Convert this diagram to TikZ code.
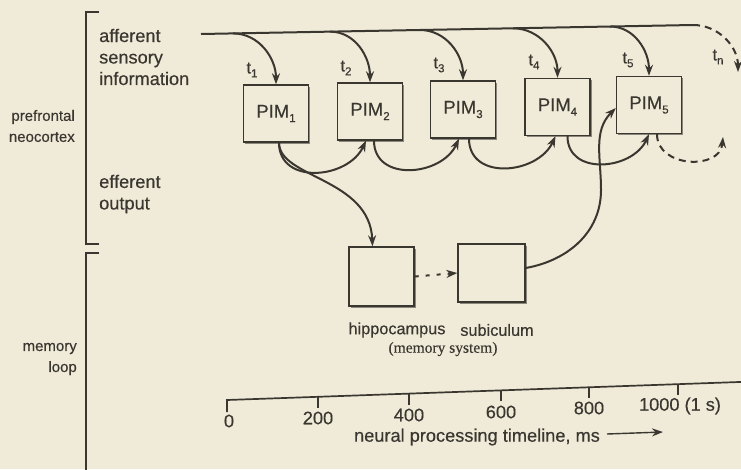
\documentclass[tikz,border=0pt]{standalone}
\usepackage{fontspec}
\setmainfont{Liberation Sans}[FakeBold=0.35]
\newfontfamily\serifnm{Liberation Serif}[FakeBold=0.3]
\usetikzlibrary{arrows.meta,shadows,calc}
\definecolor{bg}{RGB}{240,235,216}
\definecolor{ink}{RGB}{58,54,48}
\newcommand\sbs[1]{\raisebox{-0.45ex}{\fontsize{11.5}{11.5}\selectfont #1}}
\begin{document}
\begin{tikzpicture}[x=1pt,y=1pt,
  lbl/.style={text=ink, inner sep=0pt, font=\fontsize{18.2}{21.5}\selectfont},
  side/.style={text=ink, inner sep=0pt, font=\fontsize{15}{21}\selectfont, align=right},
  tl/.style={text=ink, inner sep=0pt, font=\fontsize{16.5}{16.5}\selectfont},
  pim/.style={draw=ink, line width=1.4pt, fill=bg, minimum width=65pt, minimum height=57pt,
    inner sep=0pt, text=ink, font=\fontsize{18.5}{18.5}\selectfont,
    drop shadow={shadow xshift=1.8pt, shadow yshift=-1.8pt, fill=ink, opacity=0.55}},
  ln/.style={draw=ink, line width=2pt},
  arr/.style={ln, -{Stealth[length=11pt,width=8pt]}},
  dsh/.style={dash pattern=on 7pt off 5pt},
]
\fill[bg] (0,0) rectangle (741,-469);
\useasboundingbox (0,0) rectangle (741,-469);

% brackets
\draw[ink, line width=1.5pt] (99,-12) -- (86,-12) -- (86,-244) -- (99,-244);
\draw[ink, line width=1.5pt] (99,-253) -- (86,-253) -- (86,-475);

% side labels
\node[side, anchor=east] (pf) at (75,-126) {prefrontal\\neocortex};
\node[side, anchor=east] (ml) at (77,-359) {memory\\loop};
\node[lbl, align=left, anchor=west] (aff) at (99,-57) {afferent\\sensory\\information};
\node[lbl, align=left, anchor=west] (eff) at (99,-194) {efferent\\output};

% PIM boxes
\node[pim] (p1) at (276,-113.5) {PIM\sbs{1}};
\node[pim] (p2) at (370,-111.5) {PIM\sbs{2}};
\node[pim] (p3) at (463,-109.5) {PIM\sbs{3}};
\node[pim] (p4) at (557.5,-107) {PIM\sbs{4}};
\node[pim] (p5) at (649,-105) {PIM\sbs{5}};
\node[pim, minimum width=65pt, minimum height=59pt] (hip) at (381.5,-276.5) {};
\node[pim, minimum width=67pt, minimum height=58pt] (sub) at (491.5,-273) {};

% top line and branches
\coordinate (tL) at (201,-34);
\coordinate (tR) at (693,-25);
\coordinate (b1) at (233,-33.4);
\coordinate (b2) at (330,-31.6);
\coordinate (b3) at (420,-30);
\coordinate (b4) at (513,-28.3);
\coordinate (b5) at (610,-26.5);
\coordinate (tn) at (738,-72);
\draw[ln] (tL) -- (tR);
\draw[arr] (b1) to[out=0,in=90] (p1.north);
\draw[arr] (b2) to[out=0,in=90] (p2.north);
\draw[arr] (b3) to[out=0,in=90] (p3.north);
\draw[arr] (b4) to[out=0,in=90] (p4.north);
\draw[arr] (b5) to[out=0,in=90] (p5.north);
\draw[arr, dsh] (tR) to[out=0,in=90] (tn);

% t labels
\node[tl] (t1) at (252,-70) {t\sbs{1}};
\node[tl] (t2) at (346,-68) {t\sbs{2}};
\node[tl] (t3) at (439,-65) {t\sbs{3}};
\node[tl] (t4) at (534,-62) {t\sbs{4}};
\node[tl] (t5) at (628,-60) {t\sbs{5}};
\node[tl] (tnl) at (718,-57) {t\sbs{n}};

% bottom loops
\draw[arr] ($(p1.south)+(3,0)$) to[out=-90,in=-115,looseness=1.25] ($(p2.south)+(-4,0)$);
\draw[arr] ($(p2.south)+(4,0)$) to[out=-90,in=-115,looseness=1.25] ($(p3.south)+(-4,0)$);
\draw[arr] ($(p3.south)+(6,0)$) to[out=-90,in=-115,looseness=1.25] ($(p4.south)+(-2,0)$);
\draw[arr] ($(p4.south)+(10,0)$) to[out=-90,in=-115,looseness=1.25] ($(p5.south)+(0,0)$);
\coordinate (n5) at (723,-137);
\draw[arr, dsh] ($(p5.south)+(8,0)$) to[out=-90,in=-95,looseness=1.3] (n5);

% memory loop
\draw[arr] ($(p1.south)+(3,0)$) .. controls (279,-178) and (370,-178) .. ($(hip.north)+(-9,0)$);
\draw[arr, dash pattern=on 4pt off 7pt] (hip.east) -- (sub.west);
\coordinate (v) at (601,-190);
\draw[arr] ($(sub.east)+(0,5)$) to[out=10,in=-90] (v) to[out=90,in=-135] ($(p5.west)+(0,-3)$);

% memory labels
\node[text=ink, inner sep=0pt, font=\fontsize{16.3}{16}\selectfont] (hl) at (397,-330) {hippocampus};
\node[text=ink, inner sep=0pt, font=\fontsize{16.3}{16}\selectfont] (sl) at (497,-330) {subiculum};
\node[text=ink, inner sep=0pt, font=\serifnm\fontsize{15.5}{16}\selectfont] (ms) at (443,-349) {(memory system)};

% timeline
\coordinate (k0) at (227,-400);
\coordinate (k1) at (318,-396.8);
\coordinate (k2) at (409,-393.6);
\coordinate (k3) at (501,-390.4);
\coordinate (k4) at (589,-387.3);
\coordinate (k5) at (678,-384.2);
\coordinate (kend) at (745,-381.8);
\draw[ln, line width=1.7pt] ($(k0)+(0,-12)$) -- (k0) -- (kend);
\foreach \k in {k1,k2,k3,k4,k5} \draw[ln, line width=1.7pt] (\k) -- ++(0,-11);
\node[lbl] (l0) at (229,-421) {0};
\node[lbl] (l1) at (318,-418) {200};
\node[lbl] (l2) at (409,-415) {400};
\node[lbl] (l3) at (501,-412) {600};
\node[lbl] (l4) at (589,-408) {800};
\node[lbl] (l5) at (680,-406) {1000 (1 s)};
\node[lbl] (cap) at (477,-437) {neural processing timeline, ms};
\coordinate (a1) at (607,-434);
\coordinate (a2) at (663,-432);
\draw[arr, line width=1.4pt] (a1) -- (a2);
\end{tikzpicture}
\end{document}
